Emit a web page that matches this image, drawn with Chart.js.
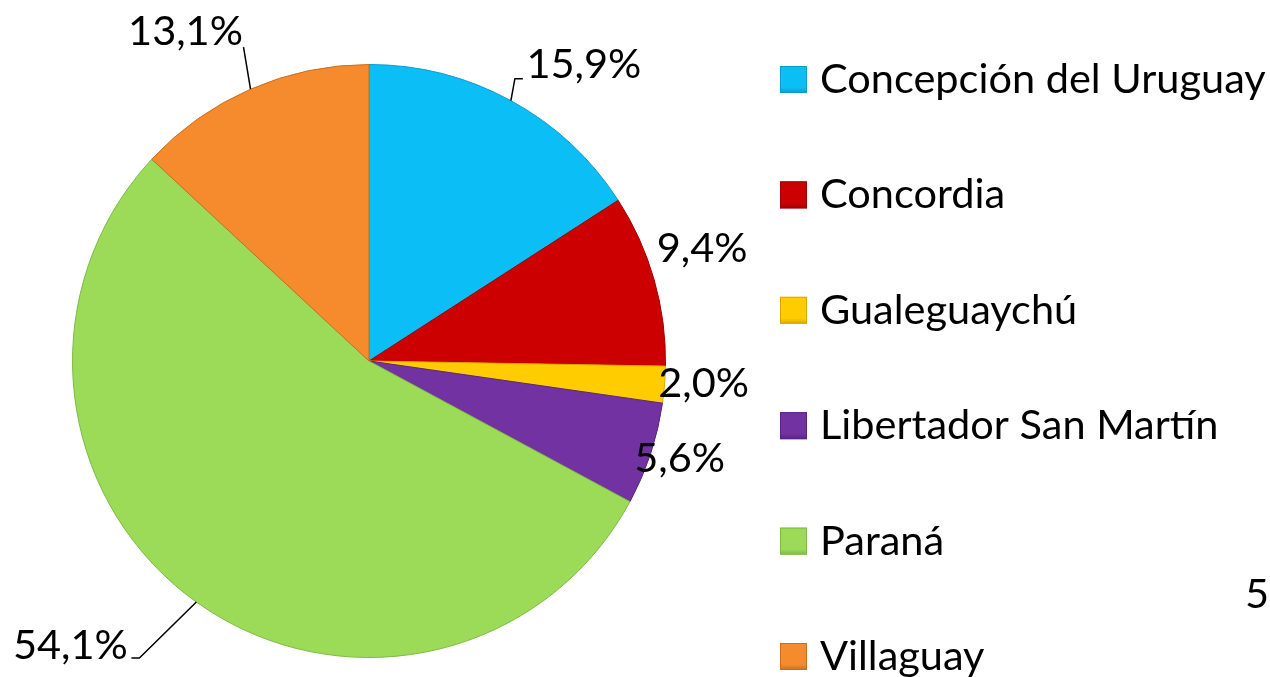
<!DOCTYPE html>
<html>
<head>
<meta charset="utf-8">
<script src="https://cdn.jsdelivr.net/npm/chart.js@4"></script>
<style>
  body { margin: 0; background: #fff; }
  #pieChart { display: block; }
</style>
</head>
<body>
<canvas id="pieChart" width="1270" height="677"></canvas>
<script>
// datos
var ciudades = ["Concepción del Uruguay", "Concordia", "Gualeguaychú", "Libertador San Martín", "Paraná", "Villaguay"];
var porcentajes = [15.9, 9.4, 2.0, 5.6, 54.1, 13.1];
var colores = ["#0CBEF6", "#CC0000", "#FFCC00", "#7232A2", "#9CDB58", "#F68B2E"];
var bordes = ["#0A9CCB", "#A00000", "#D9A800", "#5A2380", "#7FB845", "#C96E20"];

var FONT = "41.5px Lato";

function etiqueta(v){
    return v.toFixed(1).replace(".", ",") + "%";
}

// etiquetas de cada porcion (desplazamiento desde el borde del arco)
var sliceLabels = {
    id: 'sliceLabels',
    afterDatasetsDraw(chart, args, opts){
        var ctx = chart.ctx;
        var meta = chart.getDatasetMeta(0);
        ctx.save();
        ctx.font = FONT;
        ctx.fillStyle = "#000";
        ctx.strokeStyle = "#000";
        ctx.lineWidth = 1.5;
        ctx.textAlign = "center";
        ctx.textBaseline = "alphabetic";
        meta.data.forEach(function(arc, i){
            var p = arc.getProps(['x', 'y', 'startAngle', 'endAngle', 'outerRadius']);
            var mid = (p.startAngle + p.endAngle) / 2;
            var ax = p.x + Math.cos(mid) * p.outerRadius;
            var ay = p.y + Math.sin(mid) * p.outerRadius;
            var o = opts.offsets[i];
            if(o.leader){
                ctx.beginPath();
                ctx.moveTo(ax, ay);
                o.leader.forEach(function(pt){ ctx.lineTo(ax + pt[0], ay + pt[1]); });
                ctx.stroke();
            }
            ctx.fillText(etiqueta(chart.data.datasets[0].data[i]), ax + o.dx, ay + o.dy);
        });
        // texto cortado en el borde derecho
        ctx.textAlign = "left";
        ctx.fillText("5,", 1245, 608);
        ctx.restore();
    }
};

// leyenda dibujada a mano (una columna, filas separadas)
var leyenda = {
    id: 'leyenda',
    afterDraw(chart){
        var ctx = chart.ctx;
        var ds = chart.data.datasets[0];
        ctx.save();
        ctx.font = FONT;
        ctx.textBaseline = "alphabetic";
        ctx.textAlign = "left";
        chart.data.labels.forEach(function(lab, i){
            var y = 66 + i * 115.4;
            var g = ctx.createLinearGradient(0, y, 0, y + 27);
            g.addColorStop(0, ds.backgroundColor[i]);
            g.addColorStop(0.8, ds.backgroundColor[i]);
            g.addColorStop(1, ds.borderColor[i]);
            ctx.fillStyle = g;
            ctx.fillRect(780, y, 27, 27);
            ctx.strokeStyle = ds.borderColor[i];
            ctx.lineWidth = 1;
            ctx.strokeRect(780.5, y + 0.5, 26, 26);
            ctx.fillStyle = "#000";
            ctx.fillText(lab, 820, y + 27);
        });
        ctx.restore();
    }
};

var ctxP = document.getElementById("pieChart").getContext('2d');
var myPieChart = new Chart(ctxP, {
    type: 'pie',
    data: {
        labels: ciudades,
        datasets: [{
            data: porcentajes,
            backgroundColor: colores,
            borderColor: bordes,
            borderWidth: 1
        }]
    },
    options: {
        responsive: false,
        animation: false,
        devicePixelRatio: 1,
        events: [],
        layout: { padding: { left: 72, right: 604, top: 64, bottom: 19 } },
        plugins: {
            legend: { display: false },
            tooltip: { enabled: false },
            sliceLabels: {
                offsets: [
                    { dx: 73, dy: -23, leader: [[4, -22], [12, -22]] },
                    { dx: 48, dy: -18 },
                    { dx: 39, dy: 12 },
                    { dx: 29, dy: 18 },
                    { dx: -126, dy: 57, leader: [[-57, 56], [-65, 56]] },
                    { dx: -65, dy: -44, leader: [[-7, -42]] }
                ]
            }
        }
    },
    plugins: [sliceLabels, leyenda]
});
</script>
</body>
</html>
